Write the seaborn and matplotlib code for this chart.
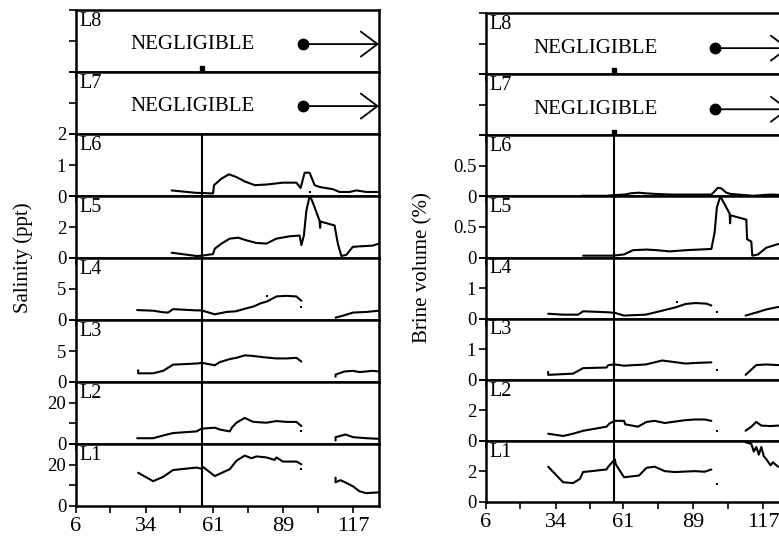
import numpy as np
import pandas as pd
import seaborn as sns
import matplotlib.pyplot as plt

# ---- salinity (ppt), left column; None breaks a line ----
sal_L6_day = [44.3, 54.3, 56.3, 60.9, 61.3, 64.3, 67.3, 70.3, 73.6, 77.6, 82.3, 88.9, 94.3, 96.0, 97.6, 99.6,
              101.6, 103.6, 108.9, 111.6, 115.6, 118.3, 122.3, 127.4]
sal_L6 = [0.18, 0.10, 0.10, 0.08, 0.35, 0.56, 0.70, 0.61, 0.47, 0.35, 0.37, 0.43, 0.43, 0.26, 0.75, 0.75,
          0.35, 0.29, 0.22, 0.13, 0.13, 0.18, 0.13, 0.13]
sal_L5_day = [44.3, 54.3, 56.3, 60.9, 61.6, 64.3, 67.6, 71.0, 74.3, 78.3, 82.3, 86.3, 91.6, 95.6, 96.3, 97.3,
              98.3, 99.6, 100.6, 103.6, 103.8, 104.0, 109.6, 110.9, 112.3, 114.3, 116.9, 119.6, 124.9, 127.4]
sal_L5 = [0.34, 0.13, 0.15, 0.25, 0.60, 0.93, 1.25, 1.31, 1.14, 0.97, 0.93, 1.25, 1.40, 1.45, 0.83, 1.45,
          3.05, 4.00, 3.70, 2.40, 1.95, 2.35, 2.10, 0.93, 0.13, 0.20, 0.72, 0.75, 0.80, 0.93]
sal_L4_day = [30.5, 36.9, 40.9, 42.9, 44.9, 54.3, 56.3, 61.6, 66.3, 70.0, 74.0, 77.3, 80.0, 82.6, 86.3, 90.3,
              94.3, 96.3, None, 110.0, 113.0, 117.0, 122.3, 127.4]
sal_L4 = [1.6, 1.5, 1.25, 1.2, 1.75, 1.55, 1.55, 0.92, 1.3, 1.4, 1.85, 2.2, 2.7, 3.0, 3.8, 3.9,
          3.8, 3.1, None, 0.38, 0.7, 1.2, 1.3, 1.5]
sal_L3_day = [30.9, 30.9, 36.9, 40.9, 44.9, 50.3, 55.0, 56.3, 61.6, 63.6, 67.6, 70.3, 73.6, 77.0, 81.0, 86.3,
              90.3, 94.3, 96.3, None, 110.0, 110.0, 113.6, 117.0, 119.6, 124.9, 127.4]
sal_L3 = [1.9, 1.4, 1.4, 1.8, 2.8, 2.9, 3.0, 3.1, 2.7, 3.2, 3.7, 3.9, 4.3, 4.2, 4.0, 3.8,
          3.8, 3.9, 3.3, None, 0.85, 1.2, 1.7, 1.8, 1.6, 1.8, 1.7]
sal_L2_day = [30.5, 36.9, 40.9, 44.9, 54.3, 56.3, 61.6, 63.6, 67.6, 68.5, 70.3, 73.6, 77.0, 82.3, 86.3, 90.3,
              94.3, 96.3, None, 110.0, 110.0, 114.0, 117.0, 122.3, 127.4]
sal_L2 = [2.8, 2.8, 4.1, 5.3, 6.1, 7.4, 7.9, 7.0, 6.1, 8.0, 10.3, 12.6, 10.7, 10.3, 11.1, 10.7,
          10.7, 8.7, None, 1.7, 3.3, 4.6, 3.3, 2.8, 2.5]
sal_L1_day = [30.9, 36.9, 40.9, 44.9, 54.3, 56.3, 57.0, 61.6, 67.6, 70.3, 73.6, 76.3, 78.3, 82.3, 85.6, 86.3,
              88.9, 94.3, 96.3, None, 110.0, 110.0, 112.0, 114.6, 117.0, 119.6, 122.3, 127.4]
sal_L1 = [16.1, 12.0, 14.1, 17.4, 18.6, 18.0, 18.8, 14.5, 17.8, 21.9, 24.4, 23.1, 24.0, 23.5, 22.3, 23.5,
          21.5, 21.5, 20.2, None, 13.7, 11.5, 12.5, 11.0, 9.5, 7.1, 6.2, 6.6]
sal_dots = {"L6": ([99.6], [0.13]), "L4": ([96.3, 82.6], [2.1, 3.8]),
            "L2": ([96.3], [6.1]), "L1": ([96.3], [18.1])}

# ---- brine volume (%), right column ----
bv_L6_day = [44.3, 54.3, 57.0, 61.6, 64.0, 67.0, 70.0, 74.0, 80.0, 90.0, 96.3, 97.3, 98.9, 100.3, 102.3,
             104.0, 110.0, 113.0, 120.0, 127.4]
bv_L6 = [0.01, 0.01, 0.02, 0.03, 0.05, 0.06, 0.05, 0.04, 0.03, 0.03, 0.03, 0.07, 0.14, 0.13, 0.06,
         0.04, 0.02, 0.01, 0.03, 0.02]
bv_L5_day = [44.9, 56.7, 61.3, 64.9, 70.3, 74.3, 79.6, 86.3, 96.3, 97.6, 98.5, 99.9, 103.6, 103.8, 104.0,
             110.3, 110.6, 112.3, 112.7, 115.0, 118.3, 123.0, 127.4]
bv_L5 = [0.03, 0.03, 0.05, 0.12, 0.13, 0.12, 0.10, 0.12, 0.14, 0.41, 0.82, 1.00, 0.72, 0.56, 0.69,
         0.62, 0.30, 0.26, 0.03, 0.05, 0.16, 0.22, 0.24]
bv_L4_day = [30.9, 36.9, 42.9, 44.9, 54.3, 57.6, 61.3, 70.0, 76.6, 82.0, 86.0, 90.0, 94.3, 96.3,
             None, 110.0, 114.3, 118.3, 123.0, 127.4]
bv_L4 = [0.16, 0.13, 0.13, 0.24, 0.21, 0.19, 0.10, 0.13, 0.26, 0.37, 0.48, 0.51, 0.49, 0.43,
         None, 0.10, 0.20, 0.30, 0.38, 0.42]
bv_L3_day = [30.9, 30.9, 40.9, 44.9, 54.3, 55.0, 57.6, 61.3, 70.0, 76.6, 86.0, 90.0, 96.3,
             None, 110.0, 114.3, 118.3, 123.0, 127.4]
bv_L3 = [0.26, 0.16, 0.20, 0.38, 0.40, 0.48, 0.50, 0.46, 0.50, 0.63, 0.53, 0.55, 0.57,
         None, 0.16, 0.48, 0.50, 0.48, 0.50]
bv_L2_day = [30.9, 36.9, 40.9, 44.9, 54.3, 55.6, 57.6, 61.3, 61.8, 66.9, 70.3, 73.6, 77.6, 85.6, 89.6, 93.6,
             96.3, None, 110.0, 112.3, 114.3, 116.3, 120.0, 123.0, 127.4]
bv_L2 = [0.47, 0.32, 0.47, 0.66, 0.93, 1.15, 1.31, 1.31, 1.08, 0.93, 1.24, 1.31, 1.17, 1.35, 1.40, 1.40,
         1.31, None, 0.66, 0.93, 1.24, 1.00, 0.97, 1.00, 1.00]
bv_L1_day = [30.9, 36.9, 40.9, 43.6, 44.9, 54.3, 55.0, 57.6, 58.0, 61.3, 67.3, 70.3, 73.6, 77.6, 81.6, 89.6,
             93.6, 96.3, None, 110.0, 112.3, 113.3, 114.3, 115.3, 116.3, 117.3, 118.3, 120.0, 121.0, 123.0, 127.4]
bv_L1 = [2.31, 1.29, 1.24, 1.51, 1.96, 2.13, 2.31, 2.80, 2.47, 1.62, 1.73, 2.24, 2.31, 2.02, 1.96, 2.02,
         1.98, 2.13, None, 3.91, 3.80, 3.30, 3.60, 3.10, 3.60, 3.00, 2.80, 2.40, 2.60, 2.31, 2.30]
bv_dots = {"L4": ([98.5, 82.6], [0.21, 0.53]), "L3": ([98.5], [0.32]),
           "L2": ([98.5], [0.66]), "L1": ([98.5], [1.2])}

layers = ["L8", "L7", "L6", "L5", "L4", "L3", "L2", "L1"]
xticks = [6, 19.8, 34, 47.5, 61, 75, 89, 103, 117]
xticklabels = ["6", "", "34", "", "61", "", "89", "", "117"]


def to_frame(x, y):
    rows, seg = [], 0
    for xi, yi in zip(x, y):
        if xi is None:
            seg += 1
            continue
        rows.append((xi, yi, seg))
    return pd.DataFrame(rows, columns=["day", "val", "seg"])


sns.set_style("ticks")
plt.rcParams["font.family"] = ["Liberation Serif", "DejaVu Serif"]
plt.rcParams["axes.linewidth"] = 1.8
plt.rcParams["axes.edgecolor"] = "black"
plt.rcParams["text.color"] = "black"
plt.rcParams["xtick.color"] = "black"
plt.rcParams["ytick.color"] = "black"
plt.rcParams["xtick.major.width"] = 1.2
plt.rcParams["ytick.major.width"] = 1.2
plt.rcParams["xtick.major.size"] = 5
plt.rcParams["ytick.major.size"] = 5

fig = plt.figure(figsize=(7.79, 5.36), dpi=100)
W, H = 779, 536

columns = [
    dict(left=76, top=10, bottom=506, vline=56.6, neg_x=27.6, neg_y=0.9, dot_x=97.0,
         series={"L6": (sal_L6_day, sal_L6), "L5": (sal_L5_day, sal_L5), "L4": (sal_L4_day, sal_L4),
                 "L3": (sal_L3_day, sal_L3), "L2": (sal_L2_day, sal_L2), "L1": (sal_L1_day, sal_L1)},
         dots=sal_dots,
         ylims={"L8": (2, [0, 1, 2], ["", "", ""]), "L7": (2, [0, 1, 2], ["", "", ""]),
                "L6": (2, [0, 1, 2], ["0", "1", "2"]), "L5": (4, [0, 2, 4], ["0", "2", ""]),
                "L4": (10, [0, 5, 10], ["0", "5", ""]), "L3": (10, [0, 5, 10], ["0", "5", ""]),
                "L2": (30, [0, 10, 20, 30], ["0", "", "20", ""]),
                "L1": (30, [0, 10, 20, 30], ["0", "", "20", ""])},
         squares=["L8"],
         ylabel="Salinity (ppt)", ylab_x=23, ylab_y=258),
    dict(left=486, top=13, bottom=502, vline=57.2, neg_x=24.8, neg_y=0.85, dot_x=97.6,
         series={"L6": (bv_L6_day, bv_L6), "L5": (bv_L5_day, bv_L5), "L4": (bv_L4_day, bv_L4),
                 "L3": (bv_L3_day, bv_L3), "L2": (bv_L2_day, bv_L2), "L1": (bv_L1_day, bv_L1)},
         dots=bv_dots,
         ylims={"L8": (2, [0, 1, 2], ["", "", ""]), "L7": (2, [0, 1, 2], ["", "", ""]),
                "L6": (1, [0, 0.5, 1], ["0", "0.5", ""]), "L5": (1, [0, 0.5, 1], ["0", "0.5", ""]),
                "L4": (2, [0, 1, 2], ["0", "1", ""]), "L3": (2, [0, 1, 2], ["0", "1", ""]),
                "L2": (4, [0, 2, 4], ["0", "2", ""]), "L1": (4, [0, 2, 4], ["0", "2", ""])},
         squares=["L8", "L7"],
         ylabel="Brine volume (%)", ylab_x=423, ylab_y=268),
]

for col in columns:
    h = (col["bottom"] - col["top"]) / 8
    for i, lay in enumerate(layers):
        y0 = 1 - (col["top"] + h * (i + 1)) / H
        ax = fig.add_axes([col["left"] / W, y0, 303 / W, h / H])
        ymax, yt, ytl = col["ylims"][lay]
        ax.set_xlim(6, 127.4)
        ax.set_ylim(0, ymax)
        ax.set_yticks(yt)
        ax.set_yticklabels(ytl)
        ax.set_xticks(xticks)
        ax.tick_params(axis="y", labelsize=13.5, pad=2)
        if lay == "L1":
            ax.set_xticklabels(xticklabels)
            ax.tick_params(axis="x", labelsize=16, pad=3)
        else:
            ax.tick_params(axis="x", labelbottom=False)

        if lay in col["series"]:
            df = to_frame(*col["series"][lay])
            sns.lineplot(data=df, x="day", y="val", units="seg", estimator=None, sort=False,
                         color="black", lw=1.5, legend=False, ax=ax)
            ax.axvline(col["vline"], color="black", lw=1.5)
        if lay in col["dots"]:
            dx, dy = col["dots"][lay]
            sns.scatterplot(x=dx, y=dy, marker="s", s=3, color="black", linewidth=0, ax=ax)
        if lay in ("L8", "L7"):
            ax.text(col["neg_x"], col["neg_y"], "NEGLIGIBLE", fontsize=15, va="center", ha="left")
            ax.plot([col["dot_x"]], [col["neg_y"]], "o", color="black", ms=7.5)
            ax.annotate("", xy=(127.4, col["neg_y"]), xytext=(col["dot_x"], col["neg_y"]),
                        arrowprops=dict(arrowstyle="->,head_length=0.6,head_width=0.45",
                                        mutation_scale=20, lw=1.3, color="black",
                                        shrinkA=0, shrinkB=0))
        if lay in col["squares"]:
            ax.plot([col["vline"]], [0.12], "s", color="black", ms=3)
        ax.text(0.012, 0.97, lay, transform=ax.transAxes, fontsize=14.5, va="top", ha="left")
        ax.set_xlabel("")
        ax.set_ylabel("")

    fig.text(col["ylab_x"] / W, 1 - col["ylab_y"] / H, col["ylabel"], rotation=90,
             fontsize=15, va="center", ha="center")

fig.savefig("out.png", dpi=100)
